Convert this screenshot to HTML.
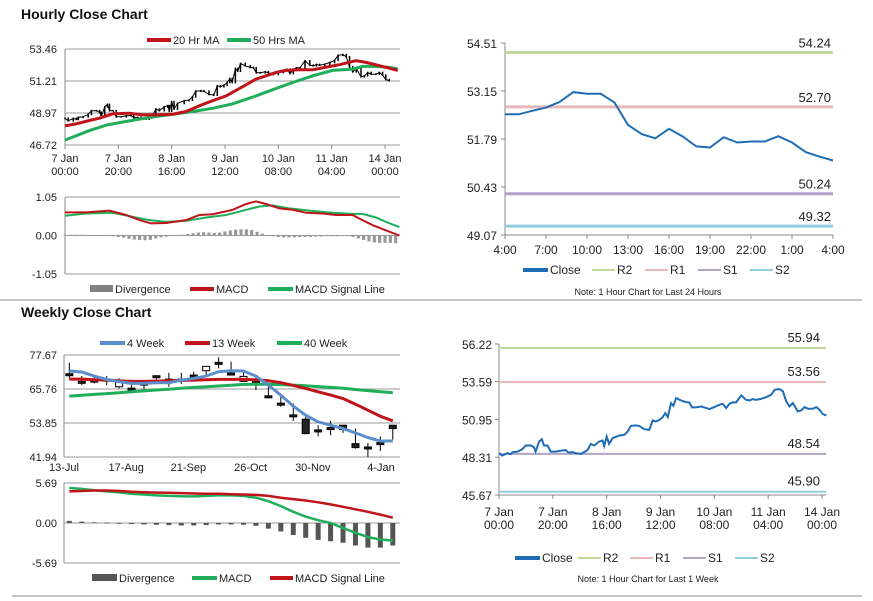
<!DOCTYPE html>
<html><head><meta charset="utf-8"><style>
html,body{margin:0;padding:0;background:#fff;}
svg{display:block;font-family:"Liberation Sans",Arial,sans-serif;}
</style></head><body>
<svg id="c" width="873" height="601" viewBox="0 0 873 601" xmlns="http://www.w3.org/2000/svg">
<text x="21" y="19" font-size="14" font-weight="bold" fill="#111">Hourly Close Chart</text>
<text x="21" y="317" font-size="14" font-weight="bold" fill="#111">Weekly Close Chart</text>
<line x1="0" y1="300" x2="862" y2="300" stroke="#888" stroke-width="1"/>
<line x1="12" y1="596" x2="862" y2="596" stroke="#888" stroke-width="1"/>
</svg>
<script>
const weekHours=[0,1.2,3.1,4.3,5,6.8,8.7,9.9,11.8,13,13.6,14.9,15.9,16.7,18,19.2,21.1,23,24.8,25.8,27.3,28.5,30.4,31.6,32.9,34.1,35.4,37.2,38.5,39.1,40,40.9,42.2,44.7,46.5,47.8,49,50.9,52.1,54,55.8,57.1,58.3,59.6,60.8,61.8,62.7,63.9,64.8,65.8,67.6,69.5,70.7,71.7,73.2,75.1,76.3,78.2,80,81.9,83.1,84.4,85.6,86.8,88.1,90,91.8,93.1,94.3,95.5,97.4,99.3,101.1,102.4,104.2,105.5,106.7,107.9,109.2,111,112.3,113.5,114.8,116.6,117.9,119.1,120.3,121.6];
const weekClose=[48.59,48.42,48.59,48.52,48.66,48.70,48.87,49.13,49.13,49.01,48.70,49.40,49.57,49.13,49.13,48.70,48.70,48.77,48.80,48.63,48.66,48.59,48.54,48.66,48.82,49.24,49.13,49.40,49.48,49.10,49.76,49.24,49.64,49.83,49.87,50.11,50.50,50.53,50.50,50.27,50.22,50.88,50.81,50.92,51.11,51.39,51.11,52.09,51.90,52.44,52.28,52.16,52.14,51.79,51.79,51.86,51.79,51.67,51.81,51.97,52.04,51.74,52.04,52.14,52.14,52.63,52.32,52.28,52.37,52.32,52.39,52.51,52.67,53.02,53.07,52.91,52.21,51.86,52.09,51.51,51.58,51.81,51.69,51.69,51.81,51.62,51.32,51.23];
const ma20Hours=[0,4.1,9.1,12.9,17.9,24.1,29.1,34.1,40.4,45.4,50.4,55.4,60.4,64.1,67.9,71.6,75.4,79.1,82.9,87.9,92.9,97.9,102.9,109.1,112.9,117.9,124.8];
const ma20=[48.06,48.20,48.44,48.60,48.90,48.95,48.83,48.83,48.88,49.07,49.47,49.84,50.17,50.55,50.95,51.35,51.58,51.82,51.96,52.00,52.00,52.19,52.36,52.64,52.52,52.29,51.96];
const ma50Hours=[0,4.1,9.1,15.4,20.4,27.9,34.1,41.6,47.9,55.4,62.9,70.4,77.9,85.4,92.9,100.4,107.9,111.6,116.6,121.6,124.8];
const ma50=[47.07,47.36,47.73,48.11,48.29,48.53,48.72,48.90,49.07,49.30,49.61,50.08,50.60,51.11,51.58,51.96,52.05,52.24,52.24,52.17,52.07];
const hTickVals=[53.46,51.21,48.97,46.72];
const hTickHours=[0,20,40,60,80,100,120];
const hTickDay=["7 Jan","7 Jan","8 Jan","9 Jan","10 Jan","11 Jan","14 Jan"];
const hTickTime=["00:00","20:00","16:00","12:00","08:00","04:00","00:00"];
const macdHours=[0,7.9,16.6,22.9,27.9,32.3,37.9,45.4,50.4,55.4,62.9,67.9,71.6,75.4,80.4,85.4,90.4,96.6,101.6,107.9,110.4,115.4,120.4,125.4];
const macdH=[0.63,0.63,0.68,0.56,0.42,0.33,0.34,0.42,0.56,0.58,0.70,0.86,0.93,0.86,0.74,0.70,0.62,0.60,0.56,0.56,0.46,0.28,0.14,0.00];
const sigHours=[0,7.9,17.9,25.4,31.6,37.9,45.4,52.9,60.4,67.9,72.9,77.9,84.1,91.6,100.4,107.9,111.6,116.6,120.4,125.4];
const sigH=[0.54,0.60,0.62,0.51,0.42,0.37,0.40,0.49,0.56,0.70,0.79,0.82,0.74,0.68,0.62,0.59,0.59,0.49,0.37,0.23];
const divH=[0.02,0.02,0.02,0.02,0.01,0.01,0.01,0.01,0,-0.02,-0.04,-0.06,-0.09,-0.11,-0.12,-0.13,-0.12,-0.08,-0.05,-0.03,-0.01,0.01,0.02,0.04,0.06,0.08,0.09,0.08,0.07,0.08,0.11,0.14,0.16,0.17,0.17,0.15,0.1,0.05,0.01,-0.02,-0.04,-0.05,-0.05,-0.05,-0.04,-0.04,-0.04,-0.03,-0.03,-0.02,-0.02,-0.02,-0.01,0,-0.04,-0.08,-0.12,-0.16,-0.19,-0.2,-0.2,-0.2,-0.21];
const macdTickVals=[1.05,0,-1.05];
const macdTickLabels=["1.05","0.00","-1.05"];
const dayLabels=["4:00","7:00","10:00","13:00","16:00","19:00","22:00","1:00","4:00"];
const dayClose=[52.49,52.49,52.59,52.68,52.84,53.12,53.07,53.07,52.83,52.19,51.93,51.81,52.08,51.86,51.58,51.55,51.84,51.69,51.72,51.72,51.87,51.69,51.42,51.29,51.18];
const dayTickVals=[54.51,53.15,51.79,50.43,49.07];
const dayLevels=[54.24,52.70,50.24,49.32];
const weekTickVals=[56.22,53.59,50.95,48.31,45.67];
const weekLevels=[55.94,53.56,48.54,45.90];
const levelNames=["R2","R1","S1","S2"];
const levelColors=["#c3d69b","#e6b9b8","#b3a2c7","#93cddd"];
const wLabels=["13-Jul","17-Aug","21-Sep","26-Oct","30-Nov","4-Jan"];
const wOpen=[70.76,68.1,68.53,68.88,66.54,65.72,67.48,70.06,68.88,68.88,70.29,72.16,74.74,71.0,68.42,67.95,63.03,60.45,56.35,54.83,51.08,51.90,52.72,46.27,45.10,46.63,52.72];
const wClose=[70.76,67.95,68.53,68.88,67.95,65.72,67.48,70.06,68.88,68.88,70.29,73.34,74.74,71.0,69.82,67.95,63.03,60.45,56.35,50.14,51.08,51.90,51.55,45.22,45.10,46.63,51.90];
const wHigh=[74.98,70.29,70.06,70.29,69.47,67.71,68.88,70.52,71.46,71.46,71.81,73.80,76.85,75.33,72.4,69.82,67.95,63.96,60.68,56.58,53.07,54.59,53.07,51.90,46.86,49.20,53.07];
const wLow=[69.47,67.13,67.71,67.13,65.96,64.20,65.60,69.12,66.54,67.48,68.88,70.64,72.98,70.64,68.3,65.37,62.44,59.51,54.59,49.91,49.20,49.55,50.37,44.87,41.94,44.05,48.03];
const wk4=[72.05,71.70,70.29,69.12,68.30,67.71,67.71,67.95,67.95,68.88,69.47,70.29,71.81,72.16,72.05,70.29,67.13,63.61,59.75,56.58,54.24,53.07,51.90,50.37,48.73,47.56,47.56];
const wk13=[69.24,69.24,69.0,68.88,68.65,68.42,68.42,68.53,68.65,68.77,68.88,69.0,69.12,69.12,69.12,69.0,68.65,67.95,67.01,65.96,64.78,63.61,62.44,60.45,58.34,56.23,54.59];
const wk40=[63.26,63.56,63.86,64.16,64.46,64.78,65.1,65.4,65.7,66.0,66.31,66.55,66.8,67.1,67.36,67.4,67.4,67.3,67.13,66.9,66.6,66.31,66.0,65.6,65.2,64.8,64.43];
const wTickVals=[77.67,65.76,53.85,41.94];
const wMacd=[4.98,4.85,4.65,4.5,4.35,4.17,4.05,3.92,3.85,3.8,3.79,3.85,3.95,3.92,3.85,3.6,3.1,2.4,1.6,0.9,0.4,0.0,-0.7,-1.4,-2.0,-2.35,-2.5];
const wSig=[4.5,4.55,4.62,4.63,4.55,4.45,4.38,4.33,4.3,4.25,4.2,4.17,4.15,4.1,4.05,4.0,3.85,3.6,3.4,3.2,2.95,2.65,2.3,1.95,1.6,1.2,0.75];
const wDiv=[0.3,0.2,0.1,0.05,0,-0.15,-0.2,-0.25,-0.3,-0.35,-0.35,-0.3,-0.2,-0.2,-0.25,-0.4,-0.8,-1.2,-1.7,-2.1,-2.4,-2.6,-2.8,-3.2,-3.5,-3.5,-3.2];
const wMacdTicks=[5.69,0,-5.69];
const wMacdLabels=["5.69","0.00","-5.69"];

const svg=document.getElementById('c');
const NS="http://www.w3.org/2000/svg";
function mk(tag,a){const e=document.createElementNS(NS,tag);for(const k in a)e.setAttribute(k,a[k]);svg.appendChild(e);return e;}
function txt(x,y,s,size,anchor,weight){const e=mk('text',{x:x,y:y,'font-size':size,'text-anchor':anchor||'start',fill:'#222'});if(weight)e.setAttribute('font-weight',weight);e.textContent=s;return e;}
function pts(xs,ys,fx,fy){return xs.map((x,i)=>fx(x).toFixed(1)+','+fy(ys[i]).toFixed(1)).join(' ');}
function idx(n){return Array.from({length:n},(_,i)=>i);}

const xH=h=>65+h*(320/120), yH=v=>49+(53.46-v)/(53.46-46.72)*96;
hTickVals.forEach(v=>{
 const g=mk('line',{x1:65,x2:400,y1:yH(v),y2:yH(v),stroke:'#999','stroke-width':1});
 
 
 const t=txt(57,yH(v)+4,v.toFixed(2),11,'end');
 
 
});
let ax=mk('line',{x1:65,x2:65,y1:49,y2:145,stroke:'#888'});


hTickHours.forEach((h,i)=>{
 const tk=mk('line',{x1:xH(h),x2:xH(h),y1:145,y2:149,stroke:'#888'});
 
 
 const a=txt(xH(h),162,hTickDay[i],11,'middle');
 
 
 const b=txt(xH(h),175,hTickTime[i],11,'middle');
 
 
});
weekClose.forEach((v,i)=>{
 const p=i>0?weekClose[i-1]:v;
 const hi=Math.max(p,v)+0.06, lo=Math.min(p,v)-0.06;
 const c=mk('line',{x1:xH(weekHours[i]),x2:xH(weekHours[i]),y1:yH(hi),y2:yH(lo),stroke:'#000','stroke-width':1.5});
 
 
});
let cl=mk('polyline',{points:pts(weekHours,weekClose,xH,yH),fill:'none',stroke:'#000','stroke-width':1});


let m50=mk('polyline',{points:pts(ma50Hours,ma50,xH,yH),fill:'none',stroke:'#1fae5a','stroke-width':3});


let m20=mk('polyline',{points:pts(ma20Hours,ma20,xH,yH),fill:'none',stroke:'#c0141b','stroke-width':3});


function legend(x,y,w,color,label,kind,name){
 let s;
 if(kind==='box'){s=mk('rect',{x:x,y:y-4,width:w,height:7,fill:color});}
 else{s=mk('line',{x1:x,x2:x+w,y1:y,y2:y,stroke:color,'stroke-width':kind==='thin'?2:4});}
 
 
 const t=txt(x+w+2,y+4,label,kind==='thin'||kind==='rt'?12:11,'start');
 
 
}
legend(147,40,24,'#c0141b','20 Hr MA','line','legend-20hr-ma');
legend(227,40,24,'#1fae5a','50 Hrs MA','line','legend-50hr-ma');

const yM=v=>235.5-v*(38.5/1.05);
macdTickVals.forEach((v,i)=>{
 const g=mk('line',{x1:65,x2:400,y1:yM(v),y2:yM(v),stroke:'#999'});
 
 
 const t=txt(57,yM(v)+4,macdTickLabels[i],11,'end');
 
 
});
ax=mk('line',{x1:65,x2:65,y1:197,y2:274,stroke:'#888'});


divH.forEach((v,i)=>{
 const x=xH(i*2), y0=yM(0), y1=yM(v);
 const r=mk('rect',{x:x-1.6,y:Math.min(y0,y1),width:3.2,height:Math.max(0.6,Math.abs(y1-y0)),fill:'#999'});
 
 
});
let ms=mk('polyline',{points:pts(sigHours,sigH,xH,yM),fill:'none',stroke:'#1fae5a','stroke-width':2});


let mm=mk('polyline',{points:pts(macdHours,macdH,xH,yM),fill:'none',stroke:'#c0141b','stroke-width':2});


legend(90,289,23,'#808080','Divergence','box','legend-hourly-divergence');
legend(190,289,24,'#c0141b','MACD','line','legend-hourly-macd');
legend(268,289,25,'#1fae5a','MACD Signal Line','line','legend-hourly-signal');

const xR=h=>505+h*(328/24), yR=v=>43+(54.51-v)/5.44*192;
ax=mk('line',{x1:505,x2:505,y1:43,y2:235,stroke:'#888'});


ax=mk('line',{x1:505,x2:833,y1:235,y2:235,stroke:'#888'});


dayTickVals.forEach(v=>{
 const tk=mk('line',{x1:501,x2:505,y1:yR(v),y2:yR(v),stroke:'#888'});
 
 
 const t=txt(497,yR(v)+5,v.toFixed(2),12,'end');
 
 
});
dayLabels.forEach((s,i)=>{
 const x=xR(i*3);
 const tk=mk('line',{x1:x,x2:x,y1:235,y2:239,stroke:'#888'});
 
 
 const t=txt(x,254,s,12,'middle');
 
 
});
dayLevels.forEach((v,i)=>{
 const l=mk('line',{x1:505,x2:833,y1:yR(v),y2:yR(v),stroke:levelColors[i],'stroke-width':3});
 
 
 const t=txt(831,yR(v)-5,v.toFixed(2),13,'end');
 
 
});
let dc=mk('polyline',{points:pts(idx(dayClose.length),dayClose,xR,yR),fill:'none',stroke:'#1f6db5','stroke-width':2});


legend(523,270,25,'#1f6db5','Close','rt','legend-day-close');
['R2','R1','S1','S2'].forEach((n,i)=>legend([592,645,698,750][i],270,23,levelColors[i],n,'thin','legend-day-'+n.toLowerCase()));
let nt=txt(648,295,'Note: 1 Hour Chart for Last 24 Hours',9,'middle');



const xB=h=>499+h*(323/120), yB=v=>344+(56.22-v)/10.55*151;
ax=mk('line',{x1:499,x2:499,y1:344,y2:495,stroke:'#888'});


ax=mk('line',{x1:499,x2:826,y1:495,y2:495,stroke:'#888'});


weekTickVals.forEach(v=>{
 const tk=mk('line',{x1:495,x2:499,y1:yB(v),y2:yB(v),stroke:'#888'});
 
 
 const t=txt(492,yB(v)+5,v.toFixed(2),12,'end');
 
 
});
hTickHours.forEach((h,i)=>{
 const x=xB(h);
 const tk=mk('line',{x1:x,x2:x,y1:495,y2:499,stroke:'#888'});
 
 
 const a=txt(x,516,hTickDay[i],12,'middle');
 
 
 const b=txt(x,529,hTickTime[i],12,'middle');
 
 
});
weekLevels.forEach((v,i)=>{
 const l=mk('line',{x1:499,x2:826,y1:yB(v),y2:yB(v),stroke:levelColors[i],'stroke-width':2});
 
 
 const t=txt(820,yB(v)-6,v.toFixed(2),13,'end');
 
 
});
let wc=mk('polyline',{points:pts(weekHours,weekClose,xB,yB),fill:'none',stroke:'#1f6db5','stroke-width':2});


legend(515,558,25,'#1f6db5','Close','rt','legend-week-close');
['R2','R1','S1','S2'].forEach((n,i)=>legend([578,630,683,735][i],558,23,levelColors[i],n,'thin','legend-week-'+n.toLowerCase()));
nt=txt(648,582,'Note: 1 Hour Chart for Last 1 Week',9,'middle');



const WW=12.44;
const xW=i=>64+(i+0.43)*WW, yW=v=>355+(77.67-v)/35.73*102;
wTickVals.forEach(v=>{
 const g=mk('line',{x1:64,x2:400,y1:yW(v),y2:yW(v),stroke:'#999'});
 
 
 const t=txt(57,yW(v)+4,v.toFixed(2),11,'end');
 
 
});
ax=mk('line',{x1:64,x2:64,y1:355,y2:457,stroke:'#888'});


wLabels.forEach((s,i)=>{
 const x=64+i*5*WW;
 const t=txt(i===5?x+6:x,471,s,11,'middle');
 
 
});
wOpen.forEach((o,i)=>{
 const x=xW(i), c=wClose[i];
 const w=mk('line',{x1:x,x2:x,y1:yW(wHigh[i]),y2:yW(wLow[i]),stroke:'#000','stroke-width':1});
 
 
 const top=yW(Math.max(o,c)), bot=yW(Math.min(o,c));
 const b=mk('rect',{x:x-3.5,y:top-1,width:7,height:Math.max(2,bot-top+1),fill:c>o?'#fff':'#222',stroke:'#000','stroke-width':1});
 
 
});
[[wk40,'#1fae5a','weekly-40-week-line'],[wk13,'#c0141b','weekly-13-week-line'],[wk4,'#5b8fcb','weekly-4-week-line']].forEach(s=>{
 const p=mk('polyline',{points:pts(idx(27),s[0],xW,yW),fill:'none',stroke:s[1],'stroke-width':3});
 
 
});
legend(100,343,25,'#5b8fcb','4 Week','line','legend-4-week');
legend(185,343,25,'#c0141b','13 Week','line','legend-13-week');
legend(277,343,25,'#1fae5a','40 Week','line','legend-40-week');

const yWM=v=>523-v*(40/5.69);
wMacdTicks.forEach((v,i)=>{
 const g=mk('line',{x1:64,x2:400,y1:yWM(v),y2:yWM(v),stroke:'#999'});
 
 
 const t=txt(57,yWM(v)+4,wMacdLabels[i],11,'end');
 
 
});
ax=mk('line',{x1:64,x2:64,y1:483,y2:563,stroke:'#888'});


wDiv.forEach((v,i)=>{
 const x=xW(i), y0=yWM(0), y1=yWM(v);
 const r=mk('rect',{x:x-2.5,y:Math.min(y0,y1),width:5,height:Math.max(0.8,Math.abs(y1-y0)),fill:'#555'});
 
 
});
let wm=mk('polyline',{points:pts(idx(27),wMacd,xW,yWM),fill:'none',stroke:'#1fae5a','stroke-width':2.5});


let wsg=mk('polyline',{points:pts(idx(27),wSig,xW,yWM),fill:'none',stroke:'#c0141b','stroke-width':2.5});


legend(92,578,25,'#555','Divergence','box','legend-weekly-divergence');
legend(192,578,25,'#1fae5a','MACD','line','legend-weekly-macd');
legend(270,578,23,'#c0141b','MACD Signal Line','line','legend-weekly-signal');
</script>
</body></html>
